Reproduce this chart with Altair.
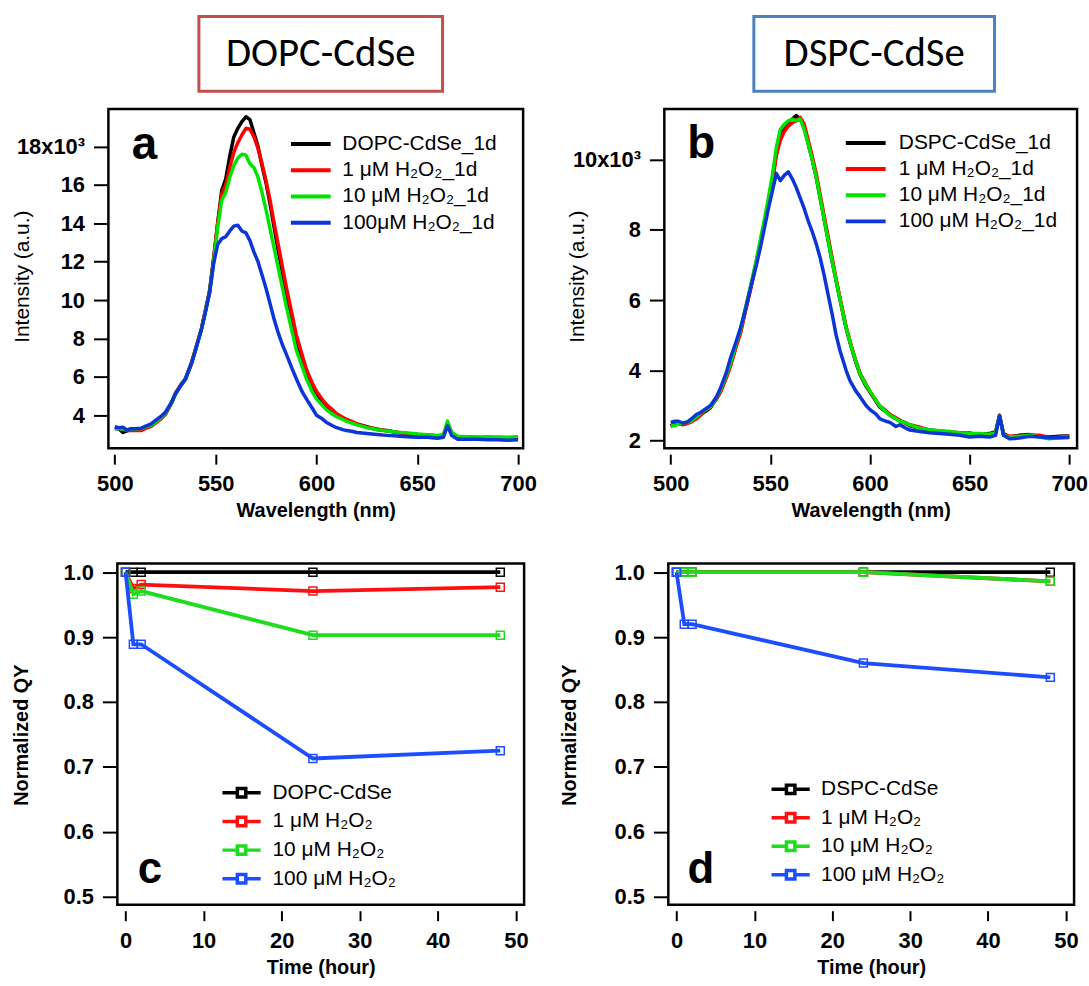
import altair as alt
import pandas as pd

# ---------------- data ----------------
WL = [500, 502, 504, 506, 508, 510, 513, 515, 518, 520, 523, 525, 528, 530, 533, 535,
      538, 540, 543, 545, 547, 549, 551, 553, 555, 557, 559, 561, 563, 565, 567, 569,
      571, 573, 575, 577, 579, 581, 583, 585, 588, 590, 593, 595, 598, 600, 603, 605,
      608, 610, 613, 615, 618, 620, 625, 630, 635, 640, 645, 650, 655, 660, 663, 665,
      667, 670, 675, 680, 685, 690, 695, 700]

# panel a (intensity in units of 10^3)
A_NAMES = ["DOPC-CdSe_1d", "1 μM H₂O₂_1d", "10 μM H₂O₂_1d", "100μM H₂O₂_1d"]
A_BLACK = [3.31, 3.30, 3.10, 3.18, 3.25, 3.25, 3.28, 3.35, 3.45, 3.60, 3.85, 4.05, 4.60, 5.10, 5.60, 5.85,
           6.70, 7.40, 8.50, 9.50, 10.50, 12.20, 14.00, 15.70, 16.30, 17.50, 18.50, 18.95, 19.30, 19.55, 19.40, 18.70,
           18.00, 17.00, 16.10, 15.00, 13.80, 12.60, 11.50, 10.40, 8.90, 7.90, 6.90, 6.20, 5.50, 5.10, 4.70, 4.45,
           4.20, 4.00, 3.85, 3.75, 3.62, 3.55, 3.40, 3.25, 3.20, 3.10, 3.05, 3.00, 2.95, 2.90, 2.95, 3.55,
           3.10, 2.85, 2.85, 2.80, 2.85, 2.80, 2.80, 2.85]
A_RED = [3.30, 3.35, 3.25, 3.20, 3.20, 3.22, 3.20, 3.30, 3.42, 3.58, 3.82, 4.05, 4.65, 5.15, 5.65, 5.90,
         6.75, 7.45, 8.55, 9.50, 10.40, 12.10, 14.00, 15.50, 16.00, 16.90, 17.70, 18.20, 18.60, 18.95, 18.90, 18.50,
         17.90, 17.10, 16.20, 15.20, 14.00, 12.90, 11.80, 10.70, 9.20, 8.20, 7.10, 6.40, 5.65, 5.25, 4.80, 4.55,
         4.28, 4.08, 3.90, 3.78, 3.65, 3.55, 3.38, 3.28, 3.18, 3.12, 3.05, 3.00, 2.98, 2.92, 2.95, 3.58,
         3.05, 2.85, 2.88, 2.85, 2.82, 2.85, 2.82, 2.85]
A_GREEN = [3.35, 3.30, 3.28, 3.25, 3.28, 3.30, 3.30, 3.38, 3.48, 3.62, 3.88, 4.10, 4.62, 5.08, 5.62, 5.88,
           6.72, 7.40, 8.50, 9.45, 10.40, 12.00, 13.80, 15.20, 15.60, 16.40, 17.00, 17.40, 17.60, 17.55, 17.10, 16.90,
           16.40, 15.60, 14.70, 13.70, 12.70, 11.70, 10.70, 9.70, 8.30, 7.40, 6.50, 5.90, 5.20, 4.85, 4.50, 4.28,
           4.05, 3.92, 3.78, 3.68, 3.58, 3.50, 3.35, 3.25, 3.18, 3.12, 3.08, 3.02, 2.98, 2.95, 3.00, 3.70,
           3.10, 2.90, 2.88, 2.85, 2.88, 2.85, 2.85, 2.88]
A_BLUE = [3.40, 3.35, 3.38, 3.22, 3.30, 3.30, 3.32, 3.42, 3.55, 3.72, 3.95, 4.15, 4.65, 5.10, 5.60, 5.90,
          6.70, 7.40, 8.50, 9.40, 10.40, 11.90, 12.90, 13.20, 13.30, 13.60, 13.85, 13.90, 13.60, 13.50, 13.10, 12.50,
          12.00, 11.30, 10.60, 9.80, 9.00, 8.30, 7.70, 7.20, 6.40, 5.90, 5.20, 4.85, 4.35, 4.00, 3.80, 3.62,
          3.45, 3.35, 3.25, 3.20, 3.15, 3.10, 3.05, 3.00, 2.95, 2.92, 2.88, 2.85, 2.85, 2.80, 2.85, 3.45,
          2.95, 2.75, 2.75, 2.75, 2.72, 2.72, 2.70, 2.72]

# panel b (intensity in units of 10^3)
B_NAMES = ["DSPC-CdSe_1d", "1 μM H₂O₂_1d", "10 μM H₂O₂_1d", "100 μM H₂O₂_1d"]
B_BLACK = [2.42, 2.50, 2.48, 2.47, 2.50, 2.56, 2.65, 2.75, 2.85, 2.94, 3.20, 3.41, 3.85, 4.16, 4.75, 5.10,
           5.85, 6.33, 7.10, 7.65, 8.20, 8.80, 9.40, 10.20, 10.70, 10.90, 11.05, 11.15, 11.25, 11.15, 10.90, 10.45,
           10.00, 9.50, 8.90, 8.30, 7.70, 7.10, 6.55, 6.00, 5.20, 4.78, 4.20, 3.88, 3.55, 3.38, 3.12, 2.95,
           2.82, 2.72, 2.62, 2.56, 2.50, 2.42, 2.35, 2.30, 2.27, 2.24, 2.22, 2.20, 2.18, 2.20, 2.25, 2.72,
           2.20, 2.10, 2.15, 2.17, 2.12, 2.10, 2.12, 2.13]
B_RED = [2.40, 2.45, 2.50, 2.45, 2.48, 2.52, 2.62, 2.72, 2.88, 2.98, 3.18, 3.38, 3.80, 4.12, 4.70, 5.05,
         5.80, 6.28, 7.05, 7.60, 8.15, 8.75, 9.35, 10.10, 10.55, 10.80, 10.95, 11.05, 11.10, 11.20, 11.00, 10.55,
         10.10, 9.60, 9.00, 8.40, 7.80, 7.20, 6.60, 6.05, 5.25, 4.82, 4.25, 3.92, 3.60, 3.40, 3.15, 2.98,
         2.85, 2.75, 2.65, 2.58, 2.48, 2.45, 2.38, 2.28, 2.25, 2.26, 2.20, 2.22, 2.15, 2.18, 2.22, 2.70,
         2.18, 2.12, 2.12, 2.15, 2.15, 2.08, 2.10, 2.12]
B_GREEN = [2.45, 2.42, 2.48, 2.50, 2.52, 2.55, 2.68, 2.78, 2.90, 2.96, 3.22, 3.45, 3.88, 4.20, 4.80, 5.15,
           5.90, 6.38, 7.15, 7.72, 8.30, 8.90, 9.55, 10.35, 10.85, 11.00, 11.10, 11.15, 11.10, 11.15, 10.85, 10.45,
           10.00, 9.50, 8.90, 8.30, 7.70, 7.10, 6.55, 6.00, 5.22, 4.80, 4.22, 3.90, 3.58, 3.40, 3.15, 2.98,
           2.82, 2.72, 2.62, 2.55, 2.50, 2.45, 2.35, 2.30, 2.28, 2.25, 2.22, 2.20, 2.20, 2.18, 2.22, 2.70,
           2.15, 2.10, 2.12, 2.15, 2.10, 2.05, 2.08, 2.10]
B_BLUE = [2.52, 2.55, 2.55, 2.50, 2.52, 2.60, 2.75, 2.80, 2.92, 3.00, 3.25, 3.50, 3.95, 4.35, 4.85, 5.20,
          5.85, 6.33, 7.00, 7.50, 8.05, 8.60, 9.10, 9.60, 9.40, 9.55, 9.65, 9.45, 9.20, 8.90, 8.60, 8.25,
          7.95, 7.60, 7.20, 6.70, 6.15, 5.60, 5.00, 4.55, 4.00, 3.70, 3.40, 3.25, 3.00, 2.88, 2.75, 2.62,
          2.55, 2.52, 2.40, 2.45, 2.35, 2.30, 2.26, 2.22, 2.20, 2.18, 2.15, 2.10, 2.12, 2.10, 2.15, 2.70,
          2.15, 2.05, 2.07, 2.12, 2.10, 2.08, 2.08, 2.09]

# panels c, d (normalized QY vs time)
TIME = [0, 1, 2, 24, 48]
C_NAMES = ["DOPC-CdSe", "1 μM H₂O₂", "10 μM H₂O₂", "100 μM H₂O₂"]
C_BLACK = [1.0, 1.0, 1.0, 1.0, 1.0]
C_RED = [1.0, 0.975, 0.981, 0.971, 0.977]
C_GREEN = [1.0, 0.966, 0.971, 0.903, 0.903]
C_BLUE = [1.0, 0.889, 0.889, 0.713, 0.725]

D_NAMES = ["DSPC-CdSe", "1 μM H₂O₂", "10 μM H₂O₂", "100 μM H₂O₂"]
D_BLACK = [1.0, 1.0, 1.0, 1.0, 1.0]
D_RED = [1.0, 1.0, 1.0, 1.0, 0.986]
D_GREEN = [1.0, 1.0, 1.0, 1.0, 0.986]
D_BLUE = [1.0, 0.92, 0.92, 0.86, 0.838]

COLORS_AB = ["#000000", "#ff0000", "#00e400", "#0b35d6"]
COLORS_CD = ["#000000", "#ff1010", "#1fdc1f", "#1d4dff"]

FONT = "Liberation Sans, Arial, Helvetica, sans-serif"
BOX_FONT = "Calibri, Carlito, Lato, sans-serif"


def long_df(xname, xs, yname, names, series):
    rows = []
    for n, vals in zip(names, series):
        for xv, yv in zip(xs, vals):
            rows.append({xname: xv, yname: yv, "series": n})
    return pd.DataFrame(rows)


def spectrum_panel(names, series, colors, ydom, yvals, top_label, letter, letter_pos,
                   width, xdom, legend_xy, label_offset, row_pad, title_x):
    df = long_df("wavelength", WL, "intensity", names, series)
    xenc = alt.X("wavelength:Q",
                 scale=alt.Scale(domain=xdom, nice=False, zero=False),
                 axis=alt.Axis(title="Wavelength (nm)", values=[500, 550, 600, 650, 700],
                               offset=6, tickSize=10, labelPadding=10, titlePadding=6,
                               labelFlush=False, labelOverlap=False,
                               titleFontWeight="bold", titleFontSize=20))
    yenc = alt.Y("intensity:Q",
                 scale=alt.Scale(domain=ydom, nice=False, zero=False),
                 axis=alt.Axis(title="Intensity (a.u.)", values=yvals, tickSize=15,
                               labelPadding=9, labelFlush=False, labelOverlap=False,
                               labelExpr=f"datum.value == {top_label} ? '{top_label}x10³' : datum.label",
                               titleFontWeight="normal", titleFontSize=21,
                               titleX=title_x, titleY=168, titleAngle=270,
                               titleBaseline="middle", titleAlign="center"))
    cenc = alt.Color("series:N",
                     scale=alt.Scale(domain=names, range=colors),
                     sort=names,
                     legend=alt.Legend(orient="none", legendX=legend_xy[0], legendY=legend_xy[1],
                                       title=None, symbolType="M-4,0H4", symbolSize=100,
                                       symbolStrokeWidth=4, labelFontSize=21, labelFont=FONT,
                                       labelOffset=label_offset, rowPadding=row_pad, padding=0,
                                       labelLimit=400))
    layers = []
    for n in names:
        layers.append(
            alt.Chart(df).transform_filter(alt.datum.series == n)
            .mark_line(strokeWidth=3.5, strokeJoin="round")
            .encode(x=xenc, y=yenc, color=cenc)
        )
    ldf = pd.DataFrame({"wavelength": [letter_pos[0]], "intensity": [letter_pos[1]], "t": [letter]})
    layers.append(
        alt.Chart(ldf).mark_text(align="left", baseline="alphabetic", fontSize=46,
                                 fontWeight="bold", font=FONT, color="black")
        .encode(x=xenc, y=yenc, text="t:N")
    )
    return alt.layer(*layers).properties(width=width, height=341)


def qy_panel(names, series, colors, letter, letter_pos, width, legend_xy, label_offset,
             row_pad, title_x):
    df = long_df("time", TIME, "qy", names, series)
    xenc = alt.X("time:Q",
                 scale=alt.Scale(domain=[-1.05, 51.05], nice=False, zero=False),
                 axis=alt.Axis(title="Time (hour)", values=[0, 10, 20, 30, 40, 50],
                               offset=6, tickSize=10, labelPadding=10, titlePadding=6,
                               labelFlush=False, labelOverlap=False,
                               titleFontWeight="bold", titleFontSize=20))
    yenc = alt.Y("qy:Q",
                 scale=alt.Scale(domain=[0.4877, 1.0133], nice=False, zero=False),
                 axis=alt.Axis(title="Normalized QY", values=[0.5, 0.6, 0.7, 0.8, 0.9, 1.0],
                               format=".1f", tickSize=15, labelPadding=9,
                               labelFlush=False, labelOverlap=False,
                               titleFontWeight="bold", titleFontSize=20,
                               titleX=title_x, titleY=172, titleAngle=270,
                               titleBaseline="middle", titleAlign="center"))
    sym = "M-3.84,0H-0.85M0.85,0H3.84M-0.85,-0.85H0.85V0.85H-0.85Z"
    cenc = alt.Color("series:N",
                     scale=alt.Scale(domain=names, range=colors),
                     sort=names,
                     legend=alt.Legend(orient="none", legendX=legend_xy[0], legendY=legend_xy[1],
                                       title=None, symbolType=sym, symbolSize=100,
                                       symbolStrokeWidth=3.5, symbolFillColor="white",
                                       labelFontSize=21, labelFont=FONT,
                                       labelOffset=label_offset, rowPadding=row_pad, padding=0,
                                       labelLimit=400))
    cenc_nolegend = alt.Color("series:N", scale=alt.Scale(domain=names, range=colors),
                              sort=names, legend=None)
    layers = []
    for n in names:
        sub = alt.Chart(df).transform_filter(alt.datum.series == n)
        layers.append(sub.mark_line(strokeWidth=3.8).encode(x=xenc, y=yenc, color=cenc))
        layers.append(sub.mark_point(shape="square", filled=False, size=64, strokeWidth=1.5,
                                     opacity=1)
                      .encode(x=xenc, y=yenc, color=cenc_nolegend))
    ldf = pd.DataFrame({"time": [letter_pos[0]], "qy": [letter_pos[1]], "t": [letter]})
    layers.append(
        alt.Chart(ldf).mark_text(align="left", baseline="alphabetic", fontSize=44,
                                 fontWeight="bold", font=FONT, color="black")
        .encode(x=xenc, y=yenc, text="t:N")
    )
    return alt.layer(*layers).properties(width=width, height=343)


def box(label, color, width):
    return (alt.Chart(pd.DataFrame({"t": [label]}))
            .mark_text(fontSize=41, font=BOX_FONT, color="black")
            .encode(text="t:N")
            .properties(width=width, height=75,
                        view=alt.ViewBackground(stroke=color, strokeWidth=3)))


def spacer(width, height=75):
    return (alt.Chart(pd.DataFrame({"t": [""]}))
            .mark_text()
            .encode(text="t:N")
            .properties(width=width, height=height,
                        view=alt.ViewBackground(stroke="transparent", strokeWidth=0)))


panel_a = spectrum_panel(A_NAMES, [A_BLACK, A_RED, A_GREEN, A_BLUE], COLORS_AB,
                         [2.28, 19.95], [4, 6, 8, 10, 12, 14, 16, 18], 18, "a", (508.4, 17.36),
                         417, [496.8, 702.5], (193, 24.5), 21.2, 4.4, -86)
panel_b = spectrum_panel(B_NAMES, [B_BLACK, B_RED, B_GREEN, B_BLUE], COLORS_AB,
                         [1.782, 11.435], [2, 4, 6, 8, 10], 10, "b", (508.3, 10.05),
                         415, [496.8, 703.9], (192, 23.5), 22.8, 4.3, -87)
panel_c = qy_panel(C_NAMES, [C_BLACK, C_RED, C_GREEN, C_BLUE], COLORS_CD, "c", (1.56, 0.5215),
                   409, (114.4, 220), 20.6, 5.8, -96)
panel_d = qy_panel(D_NAMES, [D_BLACK, D_RED, D_GREEN, D_BLUE], COLORS_CD, "d", (1.41, 0.5215),
                   408, (112.5, 216.5), 20.1, 5.6, -99)

top_row = alt.hconcat(spacer(198), box("DOPC-CdSe", "#c0504d", 245), spacer(309),
                      box("DSPC-CdSe", "#4f81bd", 242), spacing=0)
row2 = alt.hconcat(
    spacer(10, 10),
    alt.hconcat(panel_a, panel_b, spacing=27).resolve_scale(color="independent")
    .resolve_legend(color="independent"),
    spacing=0,
).resolve_scale(color="independent").resolve_legend(color="independent")
row3 = alt.hconcat(
    spacer(10, 10),
    alt.hconcat(panel_c, panel_d, spacing=28).resolve_scale(color="independent")
    .resolve_legend(color="independent"),
    spacing=0,
).resolve_scale(color="independent").resolve_legend(color="independent")
body = alt.vconcat(row2, row3, spacing=37).resolve_scale(color="independent") \
    .resolve_legend(color="independent")

chart = (
    alt.vconcat(top_row, body, spacing=14)
    .resolve_scale(color="independent")
    .resolve_legend(color="independent")
    .properties(padding={"left": 0, "top": 12, "right": 0, "bottom": 0})
    .configure(font=FONT)
    .configure_view(stroke="black", strokeWidth=2.5)
    .configure_axis(domain=False, grid=False, tickColor="black", tickWidth=2,
                    labelColor="black", titleColor="black", labelFont=FONT, titleFont=FONT,
                    labelFontSize=22, labelFontWeight="bold")
)

chart.save("out.html", embed_options={"renderer": "svg", "actions": False})
